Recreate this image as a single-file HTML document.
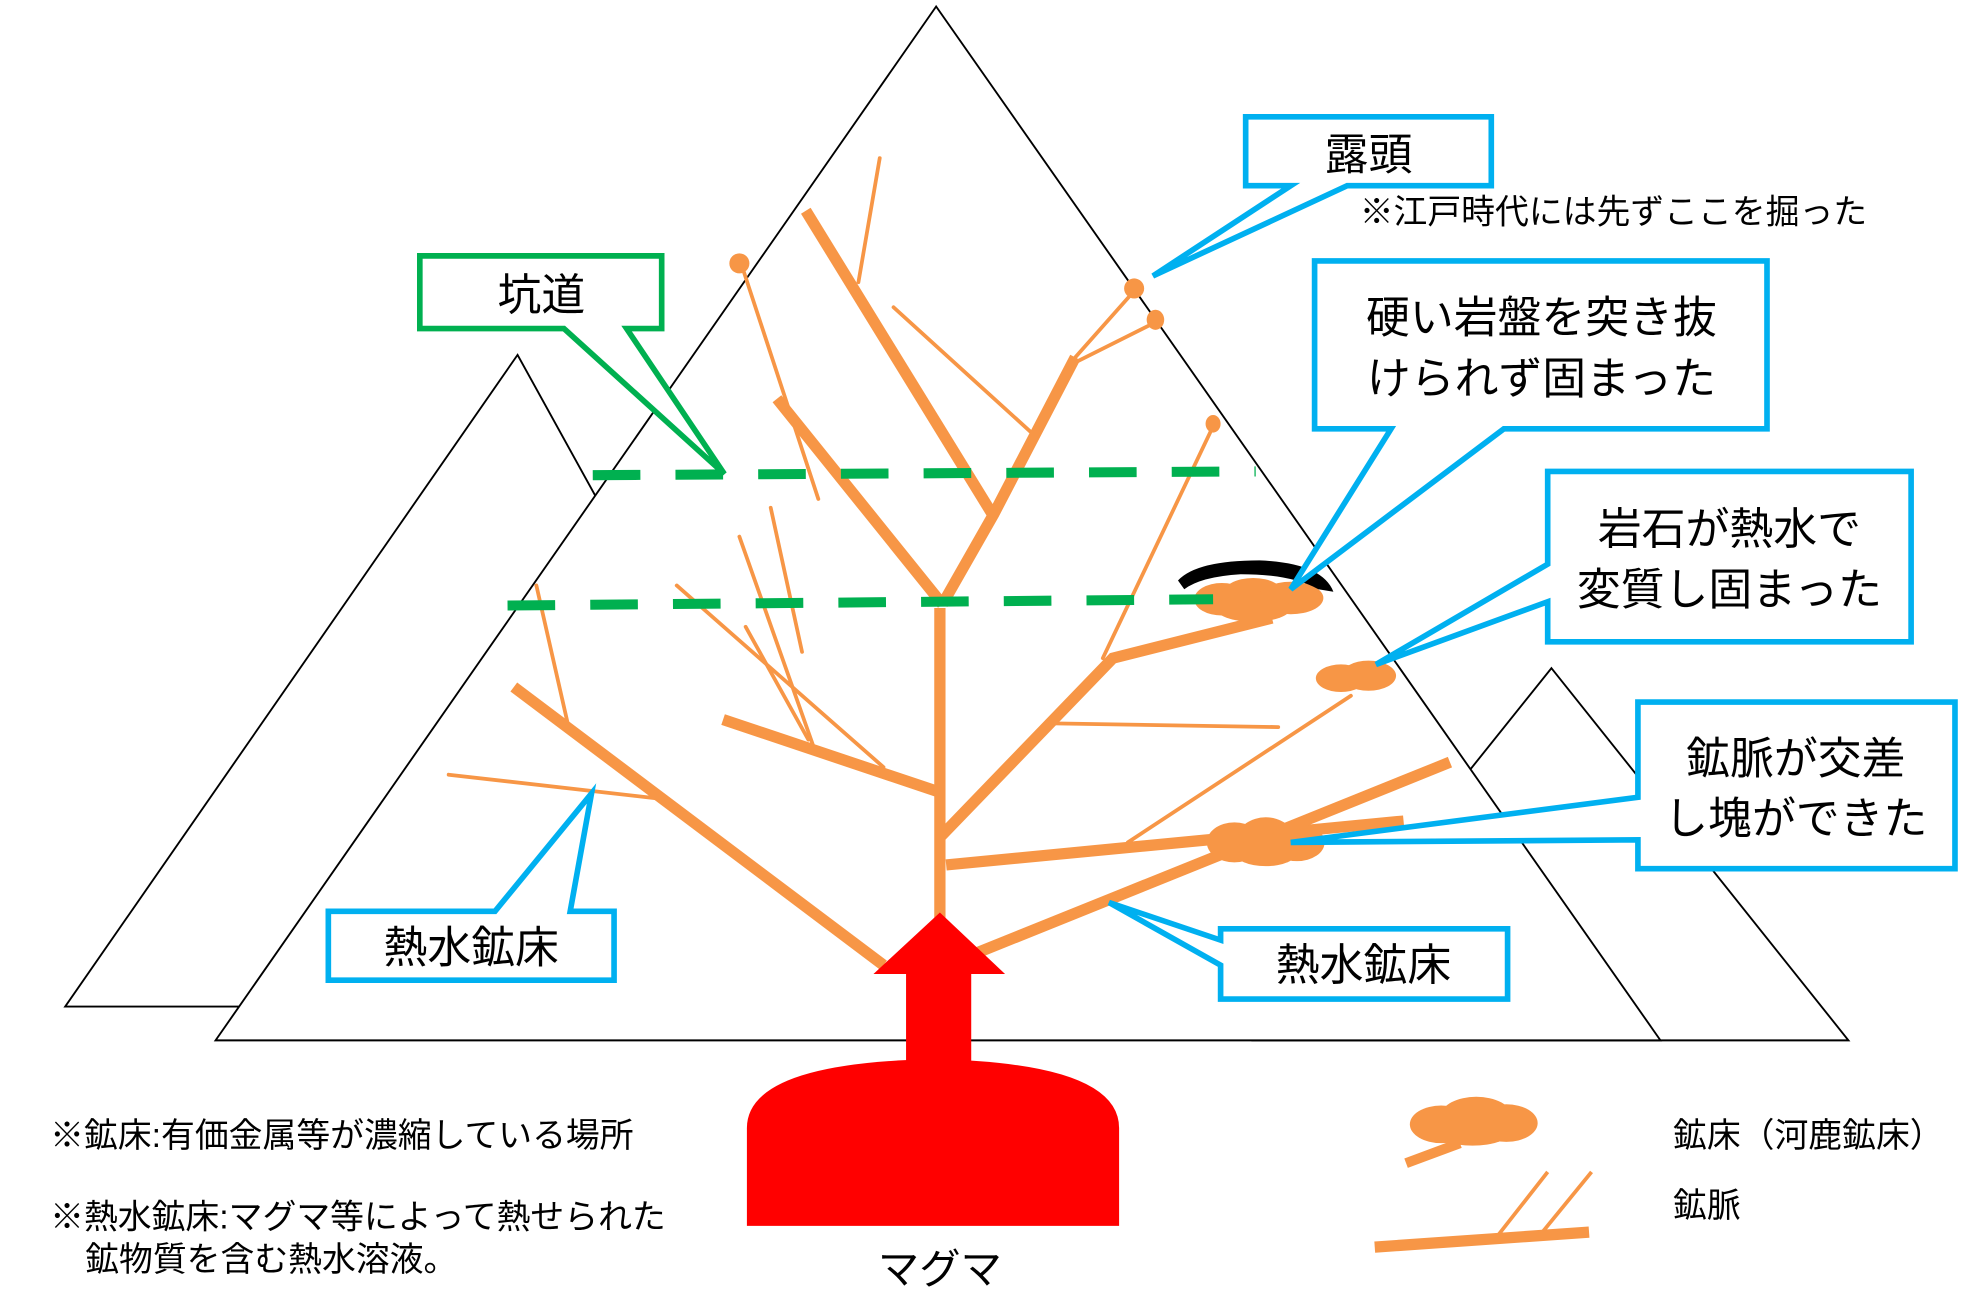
<!DOCTYPE html>
<html><head><meta charset="utf-8"><style>html,body{margin:0;padding:0;background:#fff}svg{display:block}text{font-family:"Liberation Sans","Noto Sans CJK JP",sans-serif;fill:#000}</style></head>
<body>
<svg width="1965" height="1295" viewBox="0 0 1568 1033" xmlns="http://www.w3.org/2000/svg">
<rect width="1568" height="1033" fill="#fff"/>
<g stroke="#000" stroke-width="1.5" fill="#fff">
<polygon points="413,283 52,803 700,803"/>
<polygon points="1238,533 1475,830 1000,830"/>
<polygon points="747,5 172,830 1325,830"/>
</g>
<g stroke="#F79646" stroke-width="3" fill="none" stroke-linecap="round">
<line x1="685" y1="225" x2="702" y2="126"/>
<line x1="593" y1="215" x2="653" y2="398"/>
<line x1="713" y1="245" x2="823" y2="345"/>
<line x1="858" y1="285" x2="905" y2="232"/>
<line x1="860" y1="288" x2="920" y2="258"/>
<line x1="880" y1="525" x2="968" y2="340"/>
<line x1="615" y1="405" x2="640" y2="520"/>
<line x1="590" y1="428" x2="650" y2="598"/>
<line x1="540" y1="467" x2="705" y2="612"/>
<line x1="595" y1="500" x2="645" y2="590"/>
<line x1="428" y1="467" x2="453" y2="577"/>
<line x1="358" y1="618" x2="525" y2="637"/>
<line x1="840" y1="577" x2="1020" y2="580"/>
<line x1="900" y1="672" x2="1078" y2="555"/>
</g>
<g stroke="#F79646" stroke-width="9" fill="none">
<line x1="750" y1="735" x2="750" y2="485"/>
<polyline points="752,482 690,405 620,318"/>
<polyline points="752,482 793,410 858,285"/>
<line x1="793" y1="412" x2="643" y2="168"/>
<line x1="750" y1="632" x2="577" y2="574"/>
<line x1="705" y1="770" x2="410" y2="548"/>
<polyline points="750,668 888,525 1015,493"/>
<line x1="755" y1="690" x2="1120" y2="655"/>
<line x1="780" y1="760" x2="1157" y2="608"/>
</g>
<g fill="#F79646">
<ellipse cx="590" cy="210" rx="8" ry="8"/>
<ellipse cx="905" cy="230" rx="8" ry="8"/>
<ellipse cx="922" cy="255" rx="7" ry="8"/>
<ellipse cx="968" cy="338" rx="6" ry="7"/>
<ellipse cx="975" cy="478" rx="22" ry="13"/><ellipse cx="1000" cy="475" rx="25" ry="14"/><ellipse cx="1030" cy="477" rx="26" ry="13"/><ellipse cx="1000" cy="485" rx="30" ry="11"/>
<ellipse cx="1070" cy="541" rx="20" ry="11"/><ellipse cx="1092" cy="539" rx="22" ry="12"/>
<ellipse cx="985" cy="672" rx="22" ry="16"/><ellipse cx="1010" cy="668" rx="22" ry="16"/><ellipse cx="1035" cy="672" rx="22" ry="15"/><ellipse cx="1010" cy="680" rx="25" ry="11"/>
</g>
<path d="M940,463 Q955,447 1005,447 Q1055,449 1064,472 L1052,470 Q1030,458 990,458 Q958,460 945,470 Z" fill="#000"/>
<g stroke="#00B050" stroke-width="8" stroke-dasharray="38,28">
<line x1="473" y1="379" x2="1002" y2="376"/>
<line x1="405" y1="483" x2="968" y2="478"/>
</g>
<g fill="#FF0000">
<polygon points="697,777 750,728 802,777"/>
<rect x="723" y="775" width="52" height="80"/>
<path d="M596,978 L596,900 Q596,848 745,845 Q893,848 893,900 L893,978 Z"/>
</g>
<g fill="#fff" stroke-width="4.5" stroke-linejoin="miter">
<path d="M335,204 H528 V262 H500 L578,378 L450,262 H335 Z" stroke="#00B050"/>
<path d="M994,93 H1190 V148 H1075 L920,220 L1030,148 H994 Z" stroke="#00B0F0"/>
<path d="M1049,208 H1410 V342 H1200 L1030,470 L1110,342 H1049 Z" stroke="#00B0F0"/>
<path d="M1235,376 H1525 V512 H1235 V480 L1098,530 L1235,450 Z" stroke="#00B0F0"/>
<path d="M1307,560 H1560 V693 H1307 V670 L1030,672 L1307,636 Z" stroke="#00B0F0"/>
<path d="M262,727 H395 L472,633 L455,727 H490 V782 H262 Z" stroke="#00B0F0"/>
<path d="M974,741 H1203 V797 H974 V770 L885,720 L974,750 Z" stroke="#00B0F0"/>
</g>
<g font-size="35">
<text x="432" y="247" text-anchor="middle">坑道</text>
<text x="1092" y="135" text-anchor="middle">露頭</text>
<text x="1230" y="265" text-anchor="middle">硬い岩盤を突き抜</text>
<text x="1230" y="314" text-anchor="middle">けられず固まった</text>
<text x="1380" y="434" text-anchor="middle">岩石が熱水で</text>
<text x="1380" y="482" text-anchor="middle">変質し固まった</text>
<text x="1433" y="617" text-anchor="middle">鉱脈が交差</text>
<text x="1433" y="665" text-anchor="middle">し塊ができた</text>
<text x="376" y="768" text-anchor="middle">熱水鉱床</text>
<text x="1088" y="782" text-anchor="middle">熱水鉱床</text>
</g>
<text x="1085" y="178" font-size="27">※江戸時代には先ずここを掘った</text>
<g font-size="27">
<text x="40" y="915">※鉱床:有価金属等が濃縮している場所</text>
<text x="40" y="980">※熱水鉱床:マグマ等によって熱せられた</text>
<text x="68" y="1014">鉱物質を含む熱水溶液。</text>
<text x="1335" y="915">鉱床（河鹿鉱床）</text>
<text x="1335" y="971">鉱脈</text>
</g>
<text x="750" y="1024" font-size="33" text-anchor="middle">マグマ</text>
<g fill="#F79646"><ellipse cx="1150" cy="897" rx="25" ry="15"/><ellipse cx="1178" cy="890" rx="28" ry="15"/><ellipse cx="1202" cy="896" rx="25" ry="15"/><ellipse cx="1175" cy="903" rx="30" ry="11"/></g>
<g stroke="#F79646" fill="none">
<line x1="1122" y1="928" x2="1165" y2="912" stroke-width="8"/>
<line x1="1097" y1="995" x2="1268" y2="983" stroke-width="9"/>
<line x1="1195" y1="986" x2="1235" y2="935" stroke-width="3"/>
<line x1="1230" y1="984" x2="1270" y2="935" stroke-width="3"/>
</g>
</svg>
</body></html>
